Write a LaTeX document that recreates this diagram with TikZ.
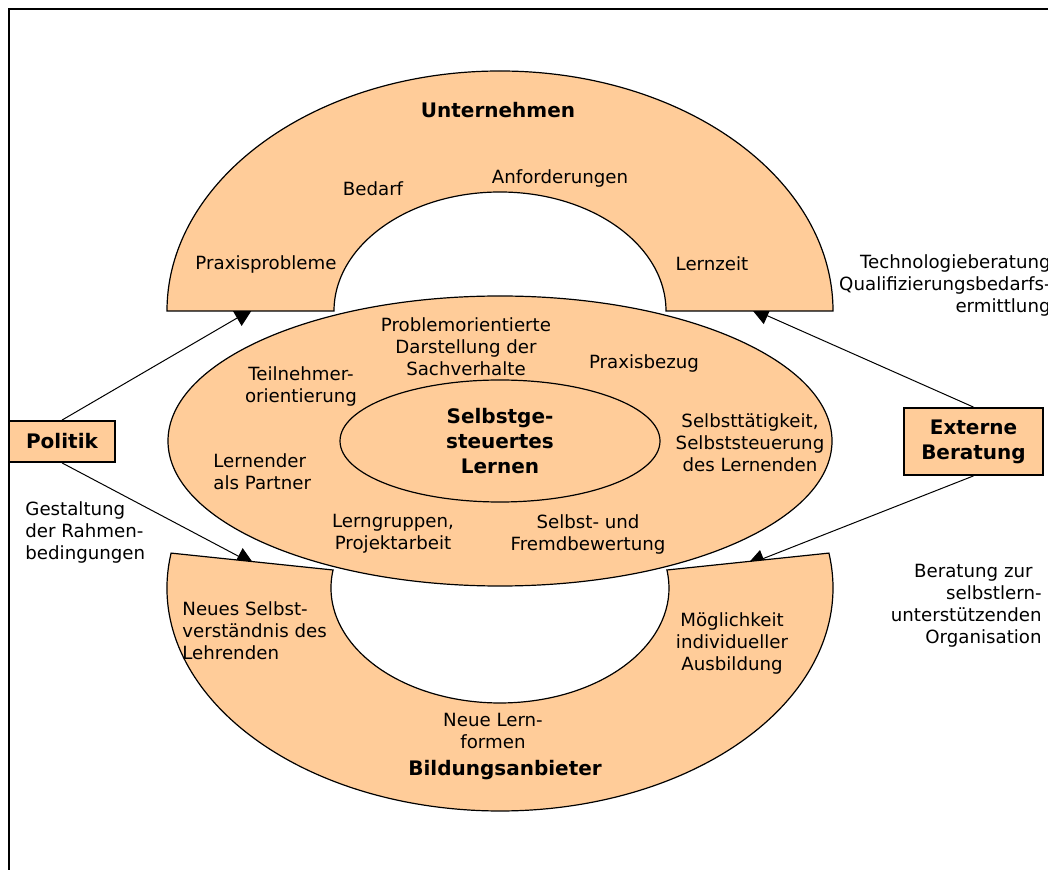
\documentclass[tikz,border=0pt]{standalone}
\usepackage{fontspec}
\setmainfont{DejaVu Sans}
\usepackage{tikz}
\usetikzlibrary{arrows.meta}
\definecolor{peach}{RGB}{255,204,153}
\tikzstyle{band}=[draw, fill=peach, line width=0.6pt]
\tikzstyle{txt}=[font=\fontsize{9.1}{11}\selectfont, align=center, inner sep=0pt]
\tikzstyle{head}=[font=\fontsize{10}{12.5}\selectfont\bfseries, align=center, inner sep=0pt]
\tikzstyle{actor}=[draw, fill=peach, line width=0.9pt, font=\fontsize{10}{12.5}\selectfont\bfseries, align=center]
\tikzstyle{edge}=[draw, line width=0.5pt, -{Triangle[length=9pt,width=9pt]}]

\begin{document}
\begin{tikzpicture}[x=0.5pt, y=-0.5pt]

  \useasboundingbox (0,0) rectangle (1048,870);
  \draw[line width=1pt] (9,890) -- (9,9) -- (1070,9);

  \node[actor, minimum width=53pt, minimum height=20.5pt] (politik) at (62,441.5) {Politik};
  \node[actor, minimum width=69.5pt, minimum height=33.5pt] (beratung) at (973.5,441.5) {Externe\\Beratung};

  % arrow tips end under the bands
  \coordinate (ul) at (252.6,309);
  \coordinate (ur) at (751,308.5);
  \coordinate (bl) at (254.3,564.6);
  \coordinate (br) at (746.6,565.1);
  \foreach \source/\dest in {politik.north/ul, politik.south/bl, beratung.north/ur, beratung.south/br}
    \draw[edge] (\source) -- (\dest);

  % Unternehmen
  \draw[band] (167,311) arc[start angle=180, end angle=360, x radius=333, y radius=240]
     -- (666,311) arc[start angle=0, end angle=-180, x radius=166, y radius=119] -- cycle;
  % Bildungsanbieter
  \draw[band] (171.1,553.1) arc[start angle=189, end angle=-9, x radius=333, y radius=223]
     -- (666.9,570) arc[start angle=-9, end angle=189, x radius=169, y radius=115] -- cycle;
  % Lernen
  \draw[band] (500,441) ellipse [x radius=332, y radius=145];
  \draw[band] (500,441) ellipse [x radius=160, y radius=61];

  \foreach \x/\y/\name/\text in {498/110/unternehmen/Unternehmen, 505/770/anbieter/Bildungsanbieter,
      500/441/selbst/{Selbstge-\\steuertes\\Lernen}}
    \node[head] (\name) at (\x,\y) {\text};

  \foreach \x/\y/\name/\text in {266/264/praxis/Praxisprobleme, 373/189/bedarf/Bedarf,
      560/178/anford/Anforderungen, 712/264/lernzeit/Lernzeit,
      466/347/problem/{Problemorientierte\\Darstellung der\\Sachverhalte},
      644/363/bezug/Praxisbezug, 301/386/teiln/{Teilnehmer-\\orientierung},
      750/443/taetig/{Selbsttätigkeit,\\Selbststeuerung\\des Lernenden},
      393/534/gruppen/{Lerngruppen,\\Projektarbeit}, 588/534/bewert/{Selbst- und\\Fremdbewertung},
      732/643/moegl/{Möglichkeit\\individueller\\Ausbildung}, 493/731/formen/{Neue Lern-\\formen}}
    \node[txt] (\name) at (\x,\y) {\text};

  \node[txt, align=left, anchor=west] (partner) at (213,472) {Lernender\\als Partner};
  \node[txt, align=left, anchor=west] (lehrende) at (182,631) {Neues Selbst-\\verständnis des\\Lehrenden};
  \node[txt, align=left, anchor=west] (rahmen) at (25,532) {Gestaltung\\der Rahmen-\\bedingungen};
  \node[txt, align=right, anchor=east] (technik) at (1051,285) {Technologieberatung\\Qualifizierungsbedarfs-\\ermittlung};
  \node[txt, align=right, anchor=east] (orga) at (1042,606)
    {Beratung zur\hspace*{4.5pt}\\selbstlern-\\unterstützenden\hspace*{4.5pt}\\Organisation};

\end{tikzpicture}
\end{document}
